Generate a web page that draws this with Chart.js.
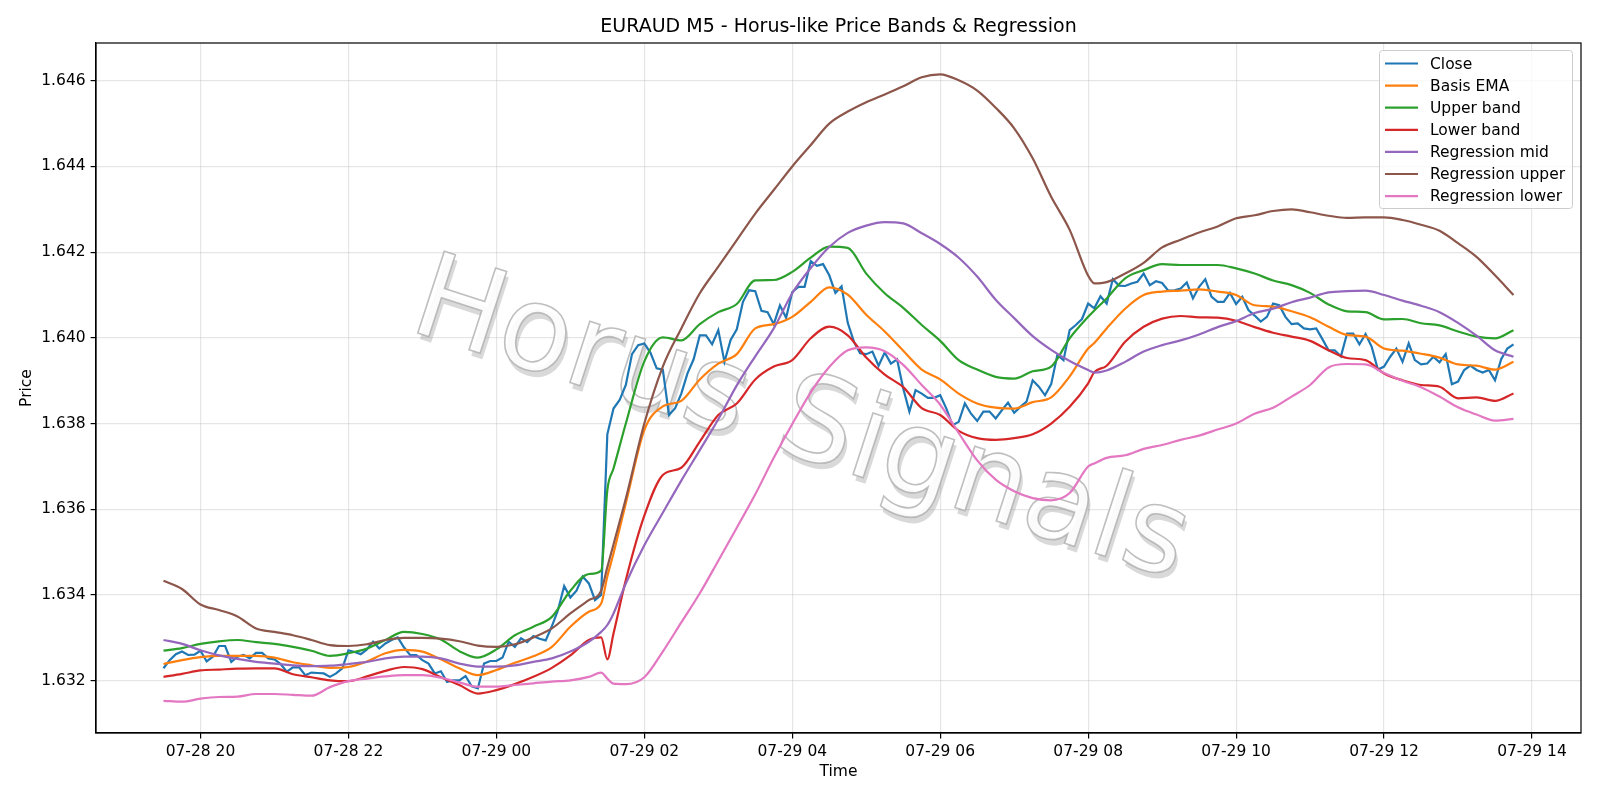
<!DOCTYPE html>
<html>
<head>
<meta charset="utf-8">
<title>EURAUD M5 - Horus-like Price Bands & Regression</title>
<script src="https://cdn.jsdelivr.net/npm/chart.js@4.4.1/dist/chart.umd.min.js"></script>
<style>
  html, body { margin: 0; padding: 0; background: #fff; }
  canvas { display: block; }
</style>
</head>
<body>
<canvas id="chart" width="1600" height="800" style="width:1600px;height:800px"></canvas>
<script>
// EURAUD M5 bars, 07-28 19:30 -> 07-29 13:45 (x = hours since 07-28 00:00)
const START_HOUR = 19.5;
const BAR_HOURS = 5 / 60;

// close of every 5-minute bar
const closeVals = [
  1.63229,1.63248,1.63262,1.63268,1.63260,1.63261,1.63270,1.63245,1.63256,1.63281,
  1.63281,1.63244,1.63256,1.63260,1.63252,1.63265,1.63265,1.63252,1.63250,1.63239,
  1.63221,1.63231,1.63231,1.63213,1.63219,1.63218,1.63217,1.63209,1.63217,1.63229,
  1.63271,1.63267,1.63262,1.63273,1.63291,1.63275,1.63287,1.63295,1.63301,1.63278,
  1.63260,1.63260,1.63248,1.63240,1.63217,1.63222,1.63197,1.63201,1.63201,1.63211,
  1.63187,1.63182,1.63240,1.63246,1.63246,1.63254,1.63291,1.63279,1.63299,1.63290,
  1.63304,1.63298,1.63294,1.63327,1.63365,1.63421,1.63394,1.63410,1.63443,1.63427,
  1.63388,1.63400,1.63775,1.63835,1.63855,1.63890,1.63962,1.63983,1.63987,1.63965,
  1.63929,1.63926,1.63820,1.63836,1.63870,1.63917,1.63950,1.64006,1.64006,1.63985,
  1.64018,1.63944,1.63995,1.64020,1.64084,1.64111,1.64109,1.64063,1.64060,1.64032,
  1.64076,1.64047,1.64107,1.64119,1.64119,1.64179,1.64168,1.64172,1.64146,1.64105,
  1.64120,1.64035,1.63991,1.63964,1.63962,1.63968,1.63935,1.63966,1.63940,1.63950,
  1.63882,1.63828,1.63878,1.63870,1.63860,1.63860,1.63866,1.63835,1.63796,1.63804,
  1.63847,1.63823,1.63806,1.63828,1.63828,1.63812,1.63831,1.63849,1.63825,1.63839,
  1.63851,1.63901,1.63886,1.63866,1.63892,1.63960,1.63948,1.64018,1.64030,1.64044,
  1.64080,1.64069,1.64097,1.64080,1.64137,1.64122,1.64121,1.64127,1.64131,1.64150,
  1.64123,1.64132,1.64128,1.64110,1.64111,1.64115,1.64129,1.64092,1.64119,1.64137,
  1.64096,1.64084,1.64084,1.64105,1.64079,1.64096,1.64065,1.64052,1.64038,1.64049,
  1.64080,1.64076,1.64049,1.64032,1.64034,1.64022,1.64020,1.64022,1.63997,1.63971,
  1.63971,1.63957,1.64010,1.64010,1.63985,1.64009,1.63979,1.63926,1.63933,1.63956,
  1.63975,1.63944,1.63987,1.63948,1.63938,1.63940,1.63956,1.63943,1.63962,1.63892,
  1.63898,1.63925,1.63935,1.63925,1.63919,1.63925,1.63901,1.63950,1.63975,1.63985
];

// bands / regression read every 3 bars, plus bars 71, 73 (01:30 jump) and 151 (08:05 turn)
const lineBars = [
  0,3,6,9,12,15,18,21,24,27,30,33,36,39,42,45,48,51,54,57,60,63,66,69,
  71,72,73,
  75,78,81,84,87,90,93,96,99,102,105,108,111,114,117,120,123,126,129,132,135,138,141,144,147,150,
  151,
  153,156,159,162,165,168,171,174,177,180,183,186,189,192,195,198,201,204,207,210,213,216,219
];

const emaVals = [
  1.63239,1.63248,1.63255,1.63258,1.63258,1.63258,1.63254,1.63243,1.63236,1.63230,1.63232,1.63245,
  1.63264,1.63272,1.63268,1.63250,1.63229,1.63213,1.63225,1.63242,1.63257,1.63279,1.63326,1.63361,
  1.63380,1.63443,1.63497,
  1.63614,1.63785,1.63840,1.63853,1.63903,1.63940,1.63962,1.64022,1.64032,1.64049,1.64084,1.64118,1.64101,
  1.64054,1.64015,1.63970,1.63926,1.63903,1.63870,1.63847,1.63837,1.63835,1.63850,1.63861,1.63910,1.63975,
  1.63988,
  1.64022,1.64068,1.64100,1.64108,1.64110,1.64113,1.64108,1.64100,1.64076,1.64073,1.64062,1.64048,
  1.64026,1.64007,1.64003,1.63975,1.63970,1.63963,1.63954,1.63938,1.63935,1.63926,1.63944
];

const upperVals = [
  1.63270,1.63276,1.63286,1.63292,1.63295,1.63290,1.63286,1.63279,1.63270,1.63258,1.63264,1.63275,
  1.63295,1.63314,1.63309,1.63296,1.63269,1.63254,1.63273,1.63306,1.63326,1.63349,1.63410,1.63449,
  1.63457,1.63645,1.63695,
  1.63800,1.63945,1.64001,1.63994,1.64032,1.64060,1.64079,1.64134,1.64135,1.64154,1.64187,1.64213,1.64210,
  1.64150,1.64104,1.64070,1.64030,1.63993,1.63948,1.63926,1.63909,1.63905,1.63922,1.63933,1.63999,1.64049,
  1.64064,
  1.64092,1.64139,1.64158,1.64172,1.64170,1.64170,1.64170,1.64162,1.64150,1.64134,1.64123,1.64105,
  1.64078,1.64062,1.64060,1.64043,1.64044,1.64034,1.64029,1.64015,1.64003,1.63999,1.64018
];

const lowerVals = [
  1.63209,1.63216,1.63224,1.63226,1.63228,1.63229,1.63229,1.63215,1.63208,1.63201,1.63199,1.63210,
  1.63223,1.63232,1.63227,1.63208,1.63190,1.63170,1.63178,1.63192,1.63209,1.63230,1.63259,1.63295,
  1.63301,1.63250,1.63310,
  1.63435,1.63585,1.63680,1.63697,1.63758,1.63820,1.63847,1.63903,1.63933,1.63948,1.63999,1.64026,1.64006,
  1.63954,1.63914,1.63885,1.63836,1.63820,1.63783,1.63766,1.63762,1.63766,1.63775,1.63800,1.63839,1.63894,
  1.63920,
  1.63935,1.63991,1.64026,1.64045,1.64051,1.64048,1.64047,1.64040,1.64025,1.64012,1.64003,1.63993,
  1.63971,1.63953,1.63948,1.63917,1.63901,1.63890,1.63886,1.63859,1.63861,1.63853,1.63870
];

const regMidVals = [
  1.63295,1.63286,1.63271,1.63259,1.63251,1.63244,1.63240,1.63236,1.63234,1.63235,1.63239,1.63244,
  1.63252,1.63256,1.63256,1.63252,1.63240,1.63233,1.63233,1.63236,1.63244,1.63252,1.63268,1.63291,
  1.63314,1.63330,1.63357,
  1.63427,1.63516,1.63592,1.63667,1.63738,1.63810,1.63889,1.63957,1.64022,1.64104,1.64163,1.64212,1.64245,
  1.64262,1.64270,1.64267,1.64244,1.64219,1.64187,1.64143,1.64089,1.64046,1.64004,1.63972,1.63946,1.63925,
  1.63919,
  1.63924,1.63944,1.63968,1.63983,1.63994,1.64008,1.64025,1.64039,1.64058,1.64068,1.64083,1.64094,
  1.64106,1.64109,1.64110,1.64100,1.64087,1.64075,1.64060,1.64035,1.64005,1.63971,1.63956
];

const regUpperVals = [
  1.63433,1.63414,1.63378,1.63365,1.63350,1.63322,1.63314,1.63306,1.63295,1.63283,1.63281,1.63285,
  1.63295,1.63300,1.63300,1.63298,1.63292,1.63282,1.63279,1.63285,1.63301,1.63322,1.63357,1.63388,
  1.63410,1.63465,1.63518,
  1.63625,1.63800,1.63933,1.64022,1.64104,1.64166,1.64228,1.64290,1.64345,1.64400,1.64450,1.64500,1.64528,
  1.64550,1.64568,1.64587,1.64608,1.64615,1.64601,1.64577,1.64537,1.64489,1.64419,1.64329,1.64252,1.64145,
  1.64127,
  1.64130,1.64150,1.64175,1.64211,1.64229,1.64246,1.64260,1.64279,1.64286,1.64296,1.64300,1.64293,
  1.64285,1.64280,1.64281,1.64281,1.64275,1.64264,1.64250,1.64221,1.64189,1.64146,1.64100
];

const regLowerVals = [
  1.63153,1.63151,1.63158,1.63162,1.63163,1.63169,1.63169,1.63167,1.63165,1.63185,1.63199,1.63205,
  1.63210,1.63213,1.63213,1.63207,1.63196,1.63186,1.63186,1.63190,1.63194,1.63198,1.63201,1.63209,
  1.63219,1.63205,1.63193,
  1.63192,1.63208,1.63268,1.63336,1.63404,1.63480,1.63557,1.63635,1.63720,1.63799,1.63873,1.63932,1.63971,
  1.63978,1.63969,1.63937,1.63890,1.63844,1.63778,1.63714,1.63669,1.63642,1.63626,1.63621,1.63638,1.63700,
  1.63707,
  1.63720,1.63726,1.63741,1.63750,1.63762,1.63772,1.63786,1.63800,1.63823,1.63837,1.63863,1.63890,
  1.63931,1.63939,1.63938,1.63918,1.63900,1.63885,1.63863,1.63838,1.63821,1.63807,1.63811
];

const xTicks = [20, 22, 24, 26, 28, 30, 32, 34, 36, 38];
const yTicks = [1.632, 1.634, 1.636, 1.638, 1.640, 1.642, 1.644, 1.646];

// axis limits (matplotlib 5% margins)
const X_MIN = 18.5875, X_MAX = 38.6625;
const Y_MIN = 1.63078, Y_MAX = 1.64688;

const FONT = "'DejaVu Sans', 'Liberation Sans', sans-serif";

function barX(b){ return START_HOUR + b * BAR_HOURS; }
function pad2(n){ return String(n).padStart(2, '0'); }
function timeLabel(h){
  return h < 24 ? '07-28 ' + pad2(h) : '07-29 ' + pad2(h - 24);
}

const closePts = closeVals.map((v, i) => ({x: barX(i), y: v}));
const linePts = vals => lineBars.map((b, j) => ({x: barX(b), y: vals[j]}));

function ds(label, color, data, order, smooth){
  return {
    label, data, order,
    borderColor: color, backgroundColor: color,
    borderWidth: 2.2, pointRadius: 0, fill: false,
    tension: 0, cubicInterpolationMode: smooth ? 'monotone' : 'default'
  };
}

const datasets = [
  ds('Close',            '#1f77b4', closePts,                7, false),
  ds('Basis EMA',        '#ff7f0e', linePts(emaVals),        6, true),
  ds('Upper band',       '#2ca02c', linePts(upperVals),      5, true),
  ds('Lower band',       '#d62728', linePts(lowerVals),      4, true),
  ds('Regression mid',   '#9467bd', linePts(regMidVals),     3, true),
  ds('Regression upper', '#8c564b', linePts(regUpperVals),   2, true),
  ds('Regression lower', '#e377c2', linePts(regLowerVals),   1, true)
];

// faint "Horus Signals" watermark behind the lines
const watermark = {
  id: 'watermark',
  beforeDatasetsDraw(chart){
    const ctx = chart.ctx;
    ctx.save();
    ctx.translate(800, 425);
    ctx.rotate(18 * Math.PI / 180);
    ctx.font = '118px ' + FONT;
    ctx.textAlign = 'center';
    ctx.textBaseline = 'middle';
    ctx.fillStyle = 'rgba(120,120,120,0.28)';
    ctx.fillText('Horus Signals', 4, 5);
    ctx.fillStyle = 'rgba(255,255,255,0.88)';
    ctx.fillText('Horus Signals', 0, 0);
    ctx.lineWidth = 1.6;
    ctx.strokeStyle = 'rgba(170,170,170,0.75)';
    ctx.strokeText('Horus Signals', 0, 0);
    ctx.restore();
  }
};

// spines, title, axis labels and legend box, drawn like matplotlib
const decor = {
  id: 'decor',
  afterDraw(chart){
    const ctx = chart.ctx;
    const a = chart.chartArea;
    ctx.save();
    ctx.strokeStyle = '#000';
    ctx.lineWidth = 1.2;
    ctx.strokeRect(a.left, a.top, a.right - a.left, a.bottom - a.top);

    ctx.fillStyle = '#000';
    ctx.textAlign = 'center';
    ctx.textBaseline = 'alphabetic';
    ctx.font = '19px ' + FONT;
    ctx.fillText('EURAUD M5 - Horus-like Price Bands & Regression', (a.left + a.right) / 2, 32);
    ctx.font = '15.5px ' + FONT;
    ctx.fillText('Time', (a.left + a.right) / 2, 776);
    ctx.save();
    ctx.translate(27, (a.top + a.bottom) / 2);
    ctx.rotate(-Math.PI / 2);
    ctx.textBaseline = 'middle';
    ctx.fillText('Price', 0, 0);
    ctx.restore();

    // legend
    const bx = 1379.5, by = 50.5, bw = 193, bh = 158;
    ctx.beginPath();
    ctx.roundRect(bx, by, bw, bh, 3);
    ctx.fillStyle = 'rgba(255,255,255,0.8)';
    ctx.fill();
    ctx.strokeStyle = '#cccccc';
    ctx.lineWidth = 1;
    ctx.stroke();
    ctx.textAlign = 'left';
    ctx.textBaseline = 'middle';
    ctx.font = '15.5px ' + FONT;
    chart.data.datasets.forEach((d, j) => {
      const y = 63.5 + 22.1 * j;
      ctx.beginPath();
      ctx.moveTo(1385, y);
      ctx.lineTo(1418, y);
      ctx.strokeStyle = d.borderColor;
      ctx.lineWidth = 2.2;
      ctx.stroke();
      ctx.fillStyle = '#000';
      ctx.fillText(d.label, 1430, y + 1);
    });
    ctx.restore();
  }
};

const gridColor = 'rgba(176,176,176,0.32)';

new Chart(document.getElementById('chart'), {
  type: 'line',
  data: { datasets },
  options: {
    responsive: false,
    devicePixelRatio: 1,
    animation: false,
    events: [],
    layout: { padding: { left: 0, right: 19, top: 43, bottom: 0 } },
    plugins: { legend: { display: false }, title: { display: false }, tooltip: { enabled: false } },
    scales: {
      x: {
        type: 'linear', min: X_MIN, max: X_MAX,
        afterBuildTicks: s => { s.ticks = xTicks.map(v => ({value: v})); },
        afterFit: s => { s.height = 67; },
        ticks: { callback: v => timeLabel(v), color: '#000', font: {family: FONT, size: 15.5}, padding: 4, autoSkip: false, maxRotation: 0 },
        grid: { color: gridColor, lineWidth: 1.2, tickColor: '#000', tickLength: 5.4, tickWidth: 1.2 },
        border: { display: true, color: '#000', width: 1.2 }
      },
      y: {
        type: 'linear', min: Y_MIN, max: Y_MAX,
        afterBuildTicks: s => { s.ticks = yTicks.map(v => ({value: v})); },
        afterFit: s => { s.width = 96; },
        ticks: { callback: v => v.toFixed(3), color: '#000', font: {family: FONT, size: 15.5}, padding: 5 },
        grid: { color: gridColor, lineWidth: 1.2, tickColor: '#000', tickLength: 5.4, tickWidth: 1.2 },
        border: { display: true, color: '#000', width: 1.2 }
      }
    }
  },
  plugins: [watermark, decor]
});
</script>
</body>
</html>
